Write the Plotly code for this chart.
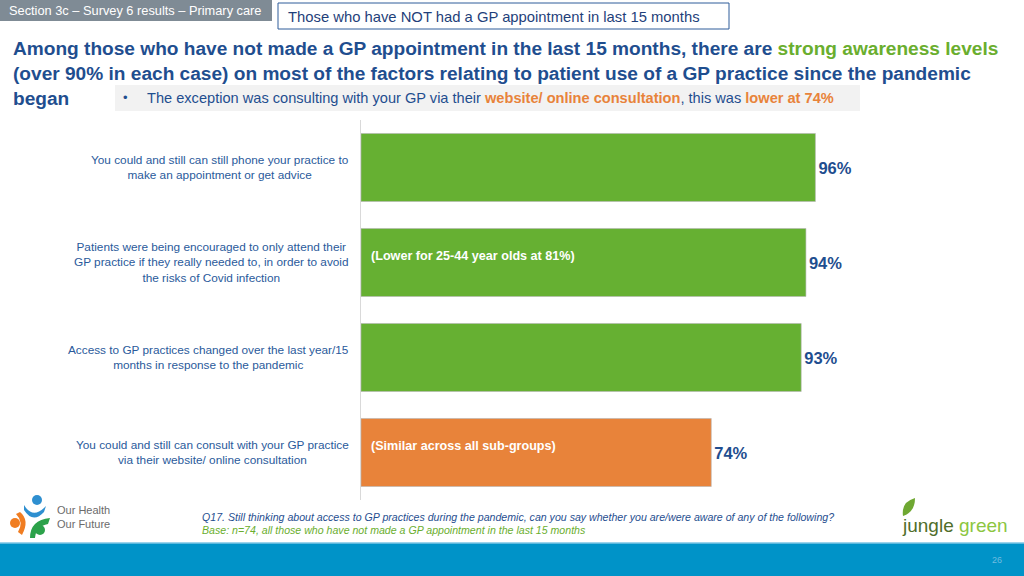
import plotly.graph_objects as go

categories = [
    "You could and still can still phone your practice to<br>make an appointment or get advice",
    "Patients were being encouraged to only attend their<br>GP practice if they really needed to, in order to avoid<br>the risks of Covid infection",
    "Access to GP practices changed over the last year/15<br>months in response to the pandemic",
    "You could and still can consult with your GP practice<br>via their website/ online consultation",
]
values = [96, 94, 93, 74]
value_labels = ["96%", "94%", "93%", "74%"]
bar_colors = ["#66B032", "#66B032", "#66B032", "#E8833A"]
inner_notes = ["", "(Lower for 25-44 year olds at 81%)", "", "(Similar across all sub-groups)"]

W, H = 1024, 576
def px(x): return x / W
def py(y): return 1 - y / H

NAVY = "#1F4E8F"
LABEL = "#2A5A9B"
GREEN = "#6AAE2E"
ORANGE = "#E8833A"
FONT = "Liberation Sans, Arial, sans-serif"
FONT_R = "Liberation Sans, Arial, sans-serif"

fig = go.Figure()
ypos = list(range(len(categories)))
fig.add_trace(go.Bar(
    x=values, y=ypos, orientation="h",
    marker=dict(color=bar_colors, line=dict(color="#B5B5B5", width=0.6)),
    width=0.716,
    text=["<b>" + t + "</b>" for t in value_labels], textposition="outside",
    textfont=dict(family=FONT_R, size=16.5, color=NAVY),
    cliponaxis=False, hoverinfo="skip",
))

annotations = []
shapes = []

# category labels
for i, c in enumerate(categories):
    annotations.append(dict(xref="paper", yref="y", x=px(351), y=i, text=c,
                            showarrow=False, xanchor="right", yanchor="middle",
                            align="center", font=dict(family=FONT_R, size=11.8, color=LABEL)))

# inner notes
for i, n in enumerate(inner_notes):
    if n:
        annotations.append(dict(xref="paper", yref="y", x=px(369), y=i - 0.065, text="<b>" + n + "</b>",
                                showarrow=False, xanchor="left", yanchor="middle",
                                font=dict(family=FONT_R, size=12.6, color="white")))

# header boxes
shapes.append(dict(type="rect", xref="paper", yref="paper", x0=px(0), x1=px(272), y0=py(21), y1=py(0),
                   fillcolor="#7F8B95", line=dict(width=0), layer="below"))
annotations.append(dict(xref="paper", yref="paper", x=px(7), y=py(11), text="Section 3c – Survey 6 results – Primary care",
                        showarrow=False, xanchor="left", yanchor="middle",
                        font=dict(family=FONT_R, size=12.8, color="white")))
shapes.append(dict(type="rect", xref="paper", yref="paper", x0=px(278), x1=px(729), y0=py(29), y1=py(3),
                   fillcolor="white", line=dict(width=1, color="#2E5C9A")))
annotations.append(dict(xref="paper", yref="paper", x=px(286), y=py(16.5), text="Those who have NOT had a GP appointment in last 15 months",
                        showarrow=False, xanchor="left", yanchor="middle",
                        font=dict(family=FONT_R, size=14.8, color="#1F3F7A")))

# title
title = ("<b>Among those who have not made a GP appointment in the last 15 months, there are "
         f"<span style='color:{GREEN}'>strong awareness levels</span><br>"
         "(over 90% in each case) on most of the factors relating to patient use of a GP practice since the pandemic<br>"
         "began</b>")
annotations.append(dict(xref="paper", yref="paper", x=px(11), y=py(36), text=title,
                        showarrow=False, xanchor="left", yanchor="top", align="left",
                        font=dict(family=FONT, size=19.1, color=NAVY)))

# bullet box
shapes.append(dict(type="rect", xref="paper", yref="paper", x0=px(115), x1=px(860), y0=py(111), y1=py(85),
                   fillcolor="#F2F2F2", line=dict(width=0), layer="below"))
annotations.append(dict(xref="paper", yref="paper", x=px(121), y=py(98), text="•",
                        showarrow=False, xanchor="left", yanchor="middle",
                        font=dict(family=FONT_R, size=13, color=NAVY)))
bullet = ("The exception was consulting with your GP via their "
          f"<b><span style='color:{ORANGE}'>website/ online consultation</span></b>, this was "
          f"<b><span style='color:{ORANGE}'>lower at 74%</span></b>")
annotations.append(dict(xref="paper", yref="paper", x=px(145), y=py(98.5), text=bullet,
                        showarrow=False, xanchor="left", yanchor="middle",
                        font=dict(family=FONT, size=14.6, color=NAVY)))

# footnotes
annotations.append(dict(xref="paper", yref="paper", x=px(200), y=py(517),
                        text="<i>Q17. Still thinking about access to GP practices during the pandemic, can you say whether you are/were aware of any of the following?</i>",
                        showarrow=False, xanchor="left", yanchor="middle",
                        font=dict(family=FONT, size=10.6, color=NAVY)))
annotations.append(dict(xref="paper", yref="paper", x=px(200), y=py(530),
                        text="<i>Base: n=74, all those who have not made a GP appointment in the last 15 months</i>",
                        showarrow=False, xanchor="left", yanchor="middle",
                        font=dict(family=FONT, size=10.6, color=GREEN)))

# footer band
shapes.append(dict(type="rect", xref="paper", yref="paper", x0=0, x1=1, y0=0, y1=py(543),
                   fillcolor="#0093C8", line=dict(width=0)))
shapes.append(dict(type="line", xref="paper", yref="paper", x0=0, x1=1, y0=py(543), y1=py(543),
                   line=dict(color="#7CC6E6", width=1.5)))
annotations.append(dict(xref="paper", yref="paper", x=px(997), y=py(560), text="26",
                        showarrow=False, xanchor="center", yanchor="middle",
                        font=dict(family=FONT_R, size=9, color="#6FBCE0")))

# left logo (simple shapes)
def circ(cx, cy, r, col):
    shapes.append(dict(type="circle", xref="paper", yref="paper",
                       x0=px(cx - r), x1=px(cx + r), y0=py(cy + r), y1=py(cy - r),
                       fillcolor=col, line=dict(width=0)))
circ(37, 500, 5, "#2E8FD0")
shapes.append(dict(type="path", xref="paper", yref="paper",
                   path=f"M {px(24)},{py(505)} Q {px(33)},{py(520)} {px(46)},{py(506)} L {px(44)},{py(512)} Q {px(33)},{py(524)} {px(24)},{py(510)} Z",
                   fillcolor="#2E8FD0", line=dict(width=0)))
circ(15, 523, 5, "#F07D22")
shapes.append(dict(type="path", xref="paper", yref="paper",
                   path=f"M {px(20)},{py(512)} Q {px(30)},{py(520)} {px(22)},{py(535)} L {px(18)},{py(532)} Q {px(24)},{py(522)} {px(16)},{py(514)} Z",
                   fillcolor="#F07D22", line=dict(width=0)))
circ(40, 530, 5, "#2CA24A")
shapes.append(dict(type="path", xref="paper", yref="paper",
                   path=f"M {px(30)},{py(538)} Q {px(30)},{py(520)} {px(50)},{py(518)} L {px(48)},{py(524)} Q {px(36)},{py(526)} {px(35)},{py(538)} Z",
                   fillcolor="#2CA24A", line=dict(width=0)))
annotations.append(dict(xref="paper", yref="paper", x=px(55), y=py(517), text="Our Health<br>Our Future",
                        showarrow=False, xanchor="left", yanchor="middle", align="left",
                        font=dict(family=FONT, size=11, color="#6B6B6B")))

# right logo
shapes.append(dict(type="path", xref="paper", yref="paper",
                   path=f"M {px(903)},{py(516)} Q {px(901)},{py(502)} {px(915)},{py(498)} Q {px(915)},{py(512)} {px(903)},{py(516)} Z",
                   fillcolor="#6FA832", line=dict(width=0)))
annotations.append(dict(xref="paper", yref="paper", x=px(900), y=py(525),
                        text="<span style='color:#4F6E2A'>jungle</span> <span style='color:#8CC63F'>green</span>",
                        showarrow=False, xanchor="left", yanchor="middle",
                        font=dict(family=FONT, size=19, color="#4F6E2A")))

fig.update_layout(
    width=W, height=H, margin=dict(l=0, r=0, t=0, b=0),
    paper_bgcolor="white", plot_bgcolor="white",
    showlegend=False, bargap=0.284,
    xaxis=dict(domain=[px(361), px(858)], range=[0, 105], visible=False, fixedrange=True),
    yaxis=dict(domain=[py(500), py(120)], range=[3.5, -0.5], showticklabels=False,
               showgrid=False, zeroline=False, showline=True, linecolor="#D9D9D9", linewidth=1,
               ticks="", fixedrange=True),
    annotations=annotations, shapes=shapes,
)

fig.write_html("out.html", config={"displayModeBar": False},
               post_script="document.body.style.margin='0';document.body.style.padding='0';document.body.style.overflow='hidden';")
